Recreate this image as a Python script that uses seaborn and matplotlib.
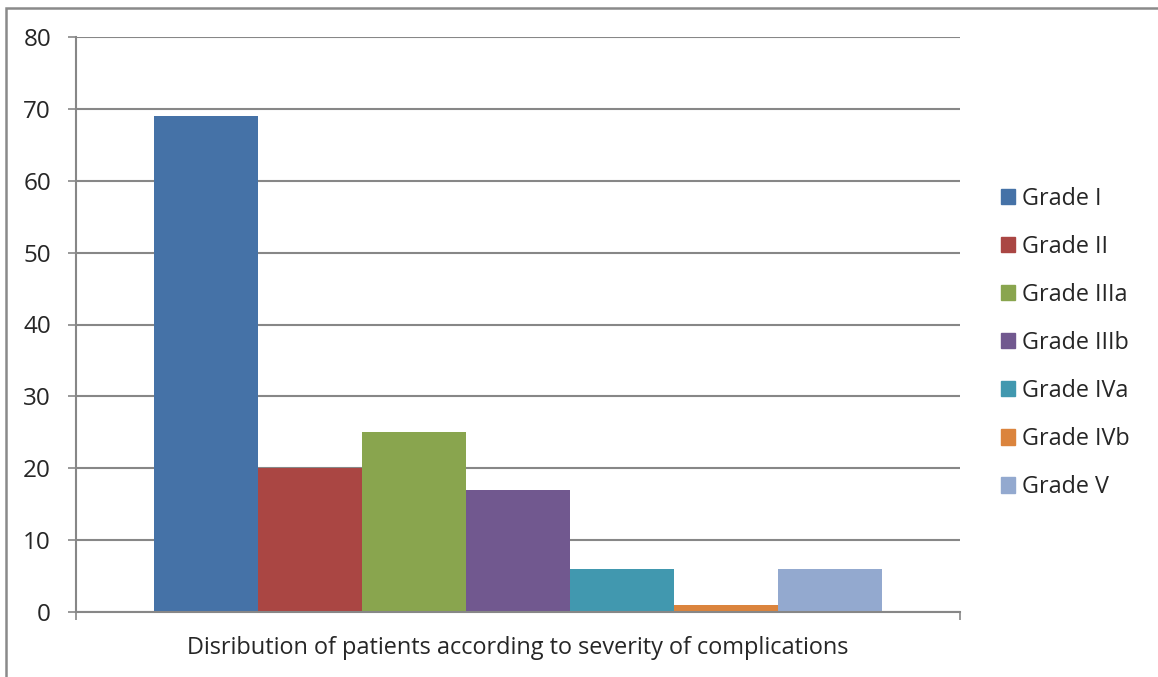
import pandas as pd
import matplotlib.pyplot as plt
import matplotlib.patches as mpatches
import seaborn as sns

# data
grades = ['Grade I', 'Grade II', 'Grade IIIa', 'Grade IIIb', 'Grade IVa', 'Grade IVb', 'Grade V']
patients = [69, 20, 25, 17, 6, 1, 6]
colores = ['#4572A7', '#AA4643', '#89A54E', '#71588F', '#4198AF', '#DB843D', '#93A9CF']
grupo = 'Disribution of patients according to severity of complications'

df = pd.DataFrame({'grupo': [grupo] * len(grades), 'grade': grades, 'patients': patients})

sns.set_style('white')
plt.rcParams['font.family'] = ['Open Sans', 'DejaVu Sans']

fig = plt.figure(figsize=(11.58, 6.77), dpi=100)
W, H = 1158, 677
ax = fig.add_axes([76 / W, 1 - 612 / H, (960 - 76) / W, (612 - 37) / H])

sns.barplot(data=df, x='grupo', y='patients', hue='grade', palette=colores,
            width=0.824, saturation=1, gap=0, linewidth=0, ax=ax, legend=False)

gris = '#878787'
ax.set_ylim(0, 80)
ax.set_xlim(-0.5, 0.5)
ax.set_yticks(range(0, 81, 10))
ax.set_xticks([-0.5, 0.5])
ax.set_xticklabels([])
ax.yaxis.grid(True, color=gris, lw=1.5)
ax.set_axisbelow(True)
ax.tick_params(axis='y', length=6, width=1.2, color=gris, pad=12, labelsize=17.5, direction='out', left=True)
ax.tick_params(axis='x', length=6, width=1.2, color=gris, direction='out', bottom=True)
for lado in ['top', 'right']:
    ax.spines[lado].set_visible(False)
for lado in ['left', 'bottom']:
    ax.spines[lado].set_color(gris)
    ax.spines[lado].set_linewidth(1.5)
ax.set_ylabel('')
ax.set_xlabel(grupo, fontsize=16.9, labelpad=8)

handles = [mpatches.Patch(color=c, label=g) for g, c in zip(grades, colores)]
ax.legend(handles=handles, loc='upper left', bbox_to_anchor=(1003 / W - 0.002, 1 - 187 / H),
          bbox_transform=fig.transFigure, frameon=False, fontsize=16.8,
          handlelength=0.62, handleheight=0.62, handletextpad=0.3, labelspacing=1.03,
          borderaxespad=0, borderpad=0)

# borde del grafico
borde = mpatches.Rectangle((6 / W, -0.2), 2, 1 - 8 / H + 0.2, transform=fig.transFigure,
                           fill=False, edgecolor='#8a8a8a', lw=1.8, clip_on=False)
fig.patches.append(borde)

plt.savefig('out.png', dpi=100)
plt.close()
